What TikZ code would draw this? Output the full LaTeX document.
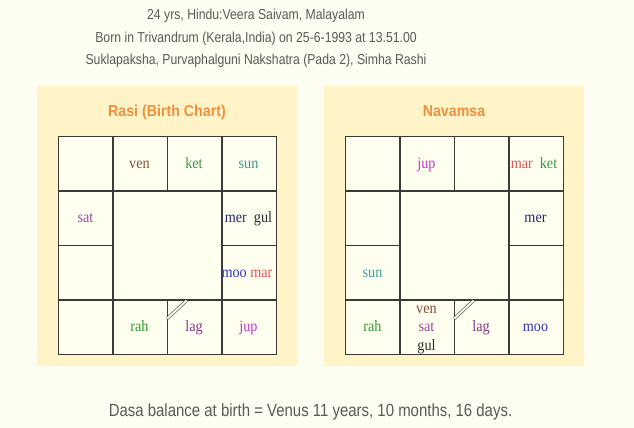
\documentclass[tikz,border=0pt]{standalone}
\usepackage{fontspec}
\setmainfont[FakeStretch=0.9]{Liberation Sans}
\newfontfamily\hdrfont[FakeStretch=0.85]{Liberation Sans}
\newfontfamily\cellfont[FakeStretch=0.9]{Liberation Serif}
\definecolor{pagebg}{HTML}{FDFDF1}
\definecolor{panelbg}{HTML}{FFF3C8}
\definecolor{cellbg}{HTML}{FFFFF0}
\definecolor{gridline}{HTML}{3A3A36}
\definecolor{hdrtext}{HTML}{5A5A5A}
\definecolor{titleorange}{HTML}{F0903C}
\definecolor{cven}{HTML}{8B4C39}
\definecolor{cket}{HTML}{3A9A48}
\definecolor{csun}{HTML}{3C9C9C}
\definecolor{csat}{HTML}{994D99}
\definecolor{cmer}{HTML}{262680}
\definecolor{cgul}{HTML}{2B2B2B}
\definecolor{cmoo}{HTML}{3333BB}
\definecolor{cmar}{HTML}{DD5555}
\definecolor{crah}{HTML}{339933}
\definecolor{clag}{HTML}{883388}
\definecolor{cjup}{HTML}{CC33CC}
\begin{document}
\begin{tikzpicture}[x=1pt,y=-1pt,
  hdr/.style={anchor=base,inner sep=0pt,text=hdrtext,font=\hdrfont\fontsize{14.4}{17}\selectfont},
  ftr/.style={anchor=base,inner sep=0pt,text=hdrtext,font=\hdrfont\fontsize{17.6}{20}\selectfont},
  ttl/.style={anchor=base,inner sep=0pt,text=titleorange,font=\fontsize{15.8}{18}\selectfont\bfseries},
  panel/.style={fill=panelbg,draw=none},
  cell/.style={fill=cellbg,draw=gridline,line width=1.1pt},
  pl/.style={anchor=base,inner sep=0pt,font=\cellfont\fontsize{15.8}{18}\selectfont},
  lagmark/.style={draw=gridline!80,line width=0.7pt,double=cellbg,double distance=1.8pt}
]
\fill[pagebg] (0,0) rectangle (634,428);
\useasboundingbox (0,0) rectangle (634,428);

% header
\node[hdr] (h1) at (256,20) {24 yrs, Hindu:Veera Saivam, Malayalam};
\node[hdr] (h2) at (256,42) {Born in Trivandrum (Kerala,India) on 25-6-1993 at 13.51.00};
\node[hdr] (h3) at (256,64) {Suklapaksha, Purvaphalguni Nakshatra (Pada 2), Simha Rashi};

% panels
\foreach \dx/\nm in {0/rasi,287/nav}{
  \begin{scope}[xshift=\dx]
    \path[panel] (37,85.7) rectangle (296.7,366);
    % outer cells
    \foreach \c/\r in {0/0,1/0,2/0,3/0,0/1,3/1,0/2,3/2,0/3,1/3,2/3,3/3}{
      \path[cell] ({58.5+54.5*\c},{136.5+54.5*\r}) rectangle ++(54.5,54.5);
    }
    % centre cell
    \path[cell] (113,191) rectangle (222,300);
    \coordinate (\nm-la) at (186.5,300.6);
    \coordinate (\nm-lb) at (167.3,318.5);
    \draw[lagmark] (\nm-la) -- (\nm-lb);
  \end{scope}
}

% titles
\node[ttl] (t1) at (167,116.5) {Rasi (Birth Chart)};
\node[ttl] (t2) at (454,116.5) {Navamsa};

% Rasi planets
\node[pl,text=cven] (r-ven) at (139.5,168) {ven};
\node[pl,text=cket] (r-ket) at (194,168) {ket};
\node[pl,text=csun] (r-sun) at (248.5,168) {sun};
\node[pl,text=csat] (r-sat) at (85.5,222) {sat};
\node[pl] (r-mg) at (248.5,222) {\textcolor{cmer}{mer}\hspace{7pt}\textcolor{cgul}{gul}};
\node[pl] (r-mm) at (247,277) {\textcolor{cmoo}{moo} \textcolor{cmar}{mar}};
\node[pl,text=crah] (r-rah) at (139.5,331.5) {rah};
\node[pl,text=clag] (r-lag) at (194,331.5) {lag};
\node[pl,text=cjup] (r-jup) at (248.5,331.5) {jup};

% Navamsa planets
\node[pl,text=cjup] (n-jup) at (426.5,168) {jup};
\node[pl] (n-mk) at (534,168) {\textcolor{cmar}{mar}\hspace{7pt}\textcolor{cket}{ket}};
\node[pl,text=cmer] (n-mer) at (535.5,222) {mer};
\node[pl,text=csun] (n-sun) at (372.5,277) {sun};
\node[pl,text=crah] (n-rah) at (372.5,331.5) {rah};
\node[pl,text=cven] (n-ven) at (426.5,313) {ven};
\node[pl,text=csat] (n-sat) at (426.5,331.5) {sat};
\node[pl,text=cgul] (n-gul) at (426.5,350) {gul};
\node[pl,text=clag] (n-lag) at (481,331.5) {lag};
\node[pl,text=cmoo] (n-moo) at (535.5,331.5) {moo};

% footer
\node[ftr] (f1) at (310.5,416) {Dasa balance at birth = Venus 11 years, 10 months, 16 days.};
\end{tikzpicture}
\end{document}
